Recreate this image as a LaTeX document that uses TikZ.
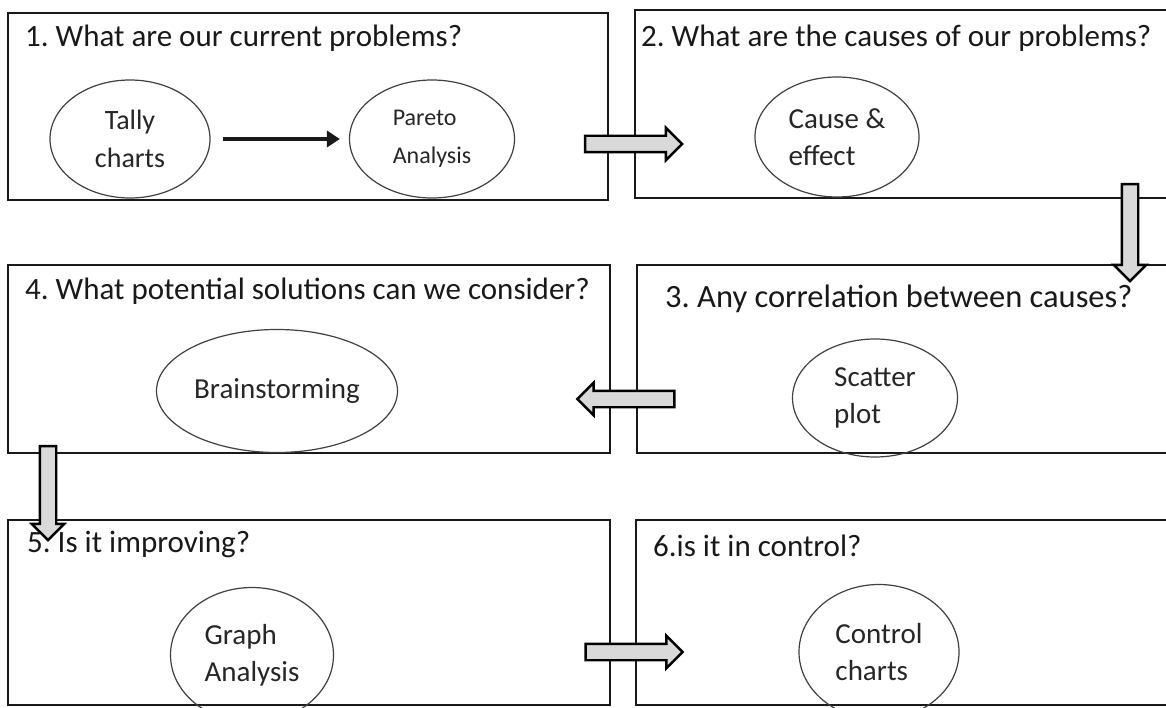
\documentclass[tikz,border=0pt]{standalone}
\usepackage{fontspec}
\setmainfont{Carlito}
\usetikzlibrary{shapes.geometric,shapes.arrows,arrows.meta}
\frenchspacing
\begin{document}
\begin{tikzpicture}[x=1pt,y=-1pt,
  box/.style={draw=black!90,line width=2pt,inner sep=0pt},
  ttl/.style={anchor=base west,inner sep=0pt,text=black!90,font=\fontsize{31}{37}\selectfont},
  tool/.style={ellipse,draw=black!75,line width=1.2pt,inner sep=0pt,align=left,text=black!85,font=\fontsize{29}{37}\selectfont},
  blk/.style={single arrow,draw=black,fill=black!15,line width=2.4pt,inner xsep=0pt,inner ysep=7pt,single arrow head extend=8pt,minimum height=97pt}]
\useasboundingbox (0,0) rectangle (1166,708);
\clip (0,0) rectangle (1166,708);
\fill[white] (0,0) rectangle (1166,708);
\node[box,minimum width=600pt,minimum height=187pt] (b1) at (308,106.5) {}; \node[box,minimum width=540pt,minimum height=188pt] (b2) at (905,104) {};
\node[box,minimum width=602pt,minimum height=188pt] (b4) at (309,359) {};   \node[box,minimum width=538pt,minimum height=188pt] (b3) at (906,359) {};
\node[box,minimum width=602pt,minimum height=185pt] (b5) at (309,612.5) {}; \node[box,minimum width=539pt,minimum height=185pt] (b6) at (905.5,612.5) {};
\node[ttl] (t1) at (25,47) {1. What are our current problems?};
\node[ttl] (t2) at (641,47) {2. What are the causes of our problems?};
\node[ttl,font=\fontsize{32.5}{37}\selectfont] (t3) at (665,308) {3. Any correlation between causes?};
\node[ttl] (t4) at (25,299) {4. What potential solutions can we consider?};
\node[ttl] (t5) at (27,552) {5. Is it improving?};
\node[ttl] (t6) at (653,556) {6.is it in control?};
\node[tool,align=center,font=\fontsize{28}{38}\selectfont,minimum width=160pt,minimum height=118pt] (tally) at (130,139) {Tally\\charts};
\node[tool,font=\fontsize{24}{38}\selectfont,minimum width=165pt,minimum height=118pt] (pareto) at (432,139) {Pareto\\Analysis};
\node[tool,minimum width=164pt,minimum height=120pt] (cause) at (837,137) {Cause \&\\effect};
\node[tool,minimum width=165pt,minimum height=118pt] (scatter) at (875,398) {Scatter\\plot};
\node[tool,inner xsep=-4pt,minimum width=241pt,minimum height=123pt] (brain) at (277,391) {Brainstorming};
\node[tool,minimum width=163pt,minimum height=135pt] (graph) at (252,655) {Graph\\Analysis};
\node[tool,minimum width=160pt,minimum height=135pt] (ctrl) at (879,652) {Control\\charts};
\draw[black!90,line width=3.6pt,-{Triangle[length=13pt,width=16pt]},shorten <=12pt,shorten >=9pt] (tally) -- (pareto);
\node[blk] (a12) at (629.5,144) {}; \node[blk,rotate=-90] (a23) at (1130,228.5) {}; \node[blk,rotate=180] (a34) at (630,399) {};
\node[blk,rotate=-90,minimum height=94pt] (a45) at (48,489) {}; \node[blk] (a56) at (630,652) {};
\end{tikzpicture}
\end{document}
